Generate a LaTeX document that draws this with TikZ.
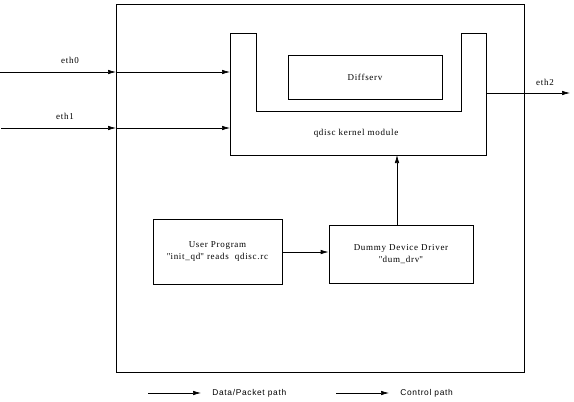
\documentclass[tikz,border=0pt]{standalone}
\usepackage{fontspec}
\setmainfont{Liberation Serif}[LetterSpace=8]
\newfontfamily\legendfont{Liberation Sans}[LetterSpace=8]
\usetikzlibrary{arrows.meta}
\begin{document}
\begin{tikzpicture}[x=1pt,y=-1pt,
  line width=0.7pt,
  arr/.style={-{Latex[length=8pt,width=4.5pt]}},
  lbl/.style={font=\fontsize{9}{10.5}\selectfont, inner sep=0pt},
  leg/.style={font=\legendfont\fontsize{8.4}{10}\selectfont, inner sep=0pt, anchor=west},
  box/.style={draw, line width=0.7pt}]
\useasboundingbox (0,0) rectangle (574,402);
% outer box
\draw (116,4) rectangle (524,372);
% qdisc U shape
\draw (230,33) -- (256,33) -- (256,111) -- (461,111) -- (461,33) -- (486,33) -- (486,155) -- (230,155) -- cycle;
\coordinate (qin0) at (230,72);
\coordinate (qin1) at (230,128);
\coordinate (qout) at (486,93);
\coordinate (qbot) at (397,155);
\node[lbl] (qlabel) at (356,133) {qdisc kernel module};
% diffserv
\node[box, minimum width=154pt, minimum height=44pt, lbl] (diff) at (365,77) {Diffserv};
% user program
\node[box, minimum width=129pt, minimum height=65pt, lbl, align=center] (user) at (217.5,251.5) {User Program\\[1pt]\textquotedbl init\_qd\textquotedbl\ reads\ \ qdisc.rc};
% dummy driver
\node[box, minimum width=144pt, minimum height=58pt, lbl, align=center] (dummy) at (401,254) {Dummy Device Driver\\[1pt]\textquotedbl dum\_drv\textquotedbl};
% ports
\coordinate (e0s) at (0,72);
\coordinate (e0m) at (116,72);
\coordinate (e1s) at (1,128);
\coordinate (e1m) at (116,128);
\coordinate (e2e) at (570,93);
\draw[arr] (e0s) -- (e0m);
\draw[arr] (e0m) -- (qin0);
\draw[arr] (e1s) -- (e1m);
\draw[arr] (e1m) -- (qin1);
\draw[arr] (qout) -- (e2e);
\node[lbl] (l0) at (70,60) {eth0};
\node[lbl] (l1) at (65,116) {eth1};
\node[lbl] (l2) at (545,82) {eth2};
\draw[arr] (user.east |- 0,252) -- (dummy.west |- 0,252);
\draw[arr] (dummy.north -| qbot) -- (qbot);
% legend
\coordinate (a1s) at (148,393);
\coordinate (a1e) at (201,393);
\coordinate (a2s) at (336,393);
\coordinate (a2e) at (389,393);
\draw[arr] (a1s) -- (a1e);
\node[leg] (t1) at (212,393) {Data/Packet path};
\draw[arr] (a2s) -- (a2e);
\node[leg] (t2) at (400,393) {Control path};
\end{tikzpicture}
\end{document}
